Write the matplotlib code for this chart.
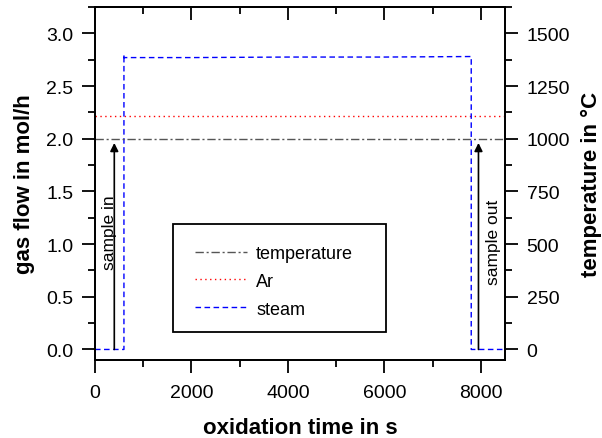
import matplotlib
matplotlib.use("Agg")
import matplotlib.pyplot as plt
from matplotlib.patches import Rectangle
from matplotlib.ticker import MultipleLocator, FormatStrFormatter

plt.rcParams['font.family'] = ['Liberation Sans', 'DejaVu Sans']

# data
steam_t = [0, 600, 600, 600, 2000, 4000, 6000, 7800, 7800, 8500]
steam_flow = [0.0, 0.0, 2.80, 2.77, 2.77, 2.775, 2.775, 2.78, 0.0, 0.0]
ar_t = [0, 8500]
ar_flow = [2.22, 2.22]
temp_t = [0, 8500]
temp_c = [1000, 1000]
sample_in_t = 400
sample_out_t = 7950

fig = plt.figure(figsize=(6.02, 4.39), dpi=100)
ax = fig.add_axes([95 / 602, 78 / 439, 410 / 602, 353 / 439])
ax2 = ax.twinx()

ax.set_xlim(0, 8500)
ax.set_ylim(-0.1, 3.25)
ax2.set_ylim(-50, 1625)

ax2.plot(temp_t, temp_c, color='#555555', lw=1, ls=(0, (6, 2, 1.5, 2)), label='temperature')
ax.plot(ar_t, ar_flow, color='red', lw=1, ls=(0, (1, 2.5)), label='Ar')
ax.plot(steam_t, steam_flow, color='blue', lw=1, ls=(0, (4, 2.5)), label='steam')

# arrows marking sample in / out
ax.annotate('', xy=(sample_in_t, 1.96), xytext=(sample_in_t, 0.0),
            arrowprops=dict(arrowstyle='-|>', color='black', lw=1.2,
                            mutation_scale=12, shrinkA=0, shrinkB=0))
ax.annotate('', xy=(sample_out_t, 1.96), xytext=(sample_out_t, 0.0),
            arrowprops=dict(arrowstyle='-|>', color='black', lw=1.2,
                            mutation_scale=12, shrinkA=0, shrinkB=0))
ax.text(sample_in_t + 60, 1.12, 'sample in', rotation=90, ha='right', va='center', fontsize=12.5)
ax.text(sample_out_t + 160, 1.03, 'sample out', rotation=90, ha='left', va='center', fontsize=12.5)

# legend box
ax.add_patch(Rectangle((0.19, 0.08), 0.52, 0.305, transform=ax.transAxes,
                       fill=False, edgecolor='black', lw=1.3, zorder=5))
handles = ax2.get_lines() + ax.get_lines()
ax.legend(handles, [h.get_label() for h in handles], loc='upper left',
          bbox_to_anchor=(0.243, 0.326), frameon=False, fontsize=13,
          handlelength=2.9, handletextpad=0.5, labelspacing=0.6,
          borderpad=0, borderaxespad=0)

ax.xaxis.set_major_locator(MultipleLocator(2000))
ax.xaxis.set_minor_locator(MultipleLocator(1000))
ax.yaxis.set_major_locator(MultipleLocator(0.5))
ax.yaxis.set_minor_locator(MultipleLocator(0.25))
ax2.yaxis.set_major_locator(MultipleLocator(250))
ax2.yaxis.set_minor_locator(MultipleLocator(125))
ax.yaxis.set_major_formatter(FormatStrFormatter('%.1f'))

for a in (ax, ax2):
    a.tick_params(which='both', direction='out', labelsize=14, width=1.3, pad=6)
    a.tick_params(which='major', length=9.5)
    a.tick_params(which='minor', length=5)
    for s in a.spines.values():
        s.set_linewidth(1.3)
ax.tick_params(axis='x', pad=7.5)

# top ticks point inward
ax_top = ax.secondary_xaxis('top')
ax_top.xaxis.set_major_locator(MultipleLocator(2000))
ax_top.xaxis.set_minor_locator(MultipleLocator(1000))
ax_top.tick_params(which='both', direction='in', labeltop=False, width=1.3)
ax_top.tick_params(which='major', length=9.5)
ax_top.tick_params(which='minor', length=5)
ax_top.spines['top'].set_linewidth(1.3)

ax.set_xlabel('oxidation time in s', fontsize=16, fontweight='bold', labelpad=12)
ax.set_ylabel('gas flow in mol/h', fontsize=16, fontweight='bold', labelpad=8)
ax2.set_ylabel('temperature in °C', fontsize=16, fontweight='bold', labelpad=8)

fig.savefig('out.png', dpi=100)
